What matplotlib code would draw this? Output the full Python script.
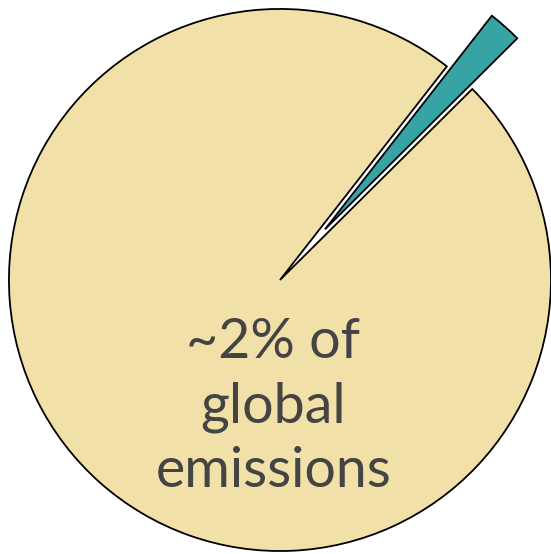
import matplotlib
matplotlib.use("Agg")
import matplotlib.pyplot as plt

shares = [2, 98]
labels = ["Share", "Rest"]
colors = ["#36A4A4", "#F1E0A7"]
explode = [0.25, 0]
note = "~2% of\nglobal\nemissions"

fig = plt.figure(figsize=(5.51, 5.54), dpi=100)
ax = fig.add_axes([0, 0, 1, 1])
ax.pie(shares, colors=colors, explode=explode, startangle=44.8,
       counterclock=True,
       wedgeprops=dict(edgecolor="black", linewidth=1.3))
ax.set_xlim(-1.033, 1.0)
ax.set_ylim(-1.011, 1.033)
ax.set_aspect("auto")
ax.axis("off")

ax.text(-0.025, -0.47, note, ha="center", va="center", fontsize=40,
        family="Lato", color="#444444", linespacing=1.32)

fig.savefig("out.png", dpi=100)
